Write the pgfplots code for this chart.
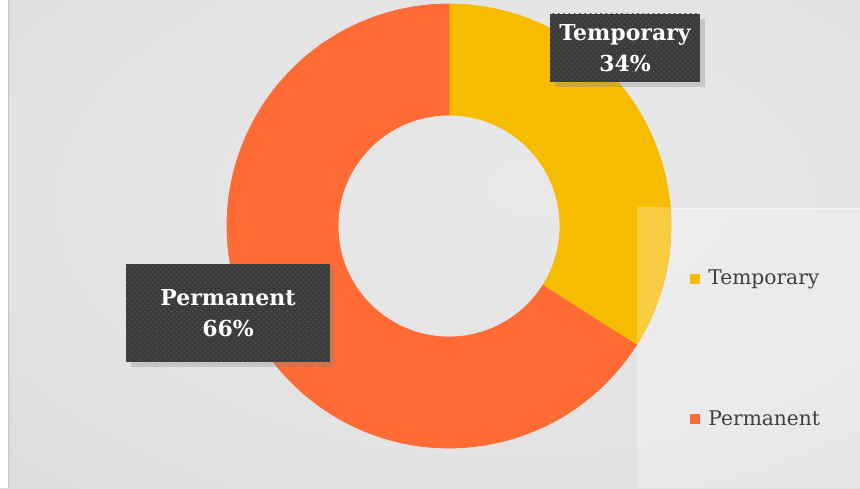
\documentclass[border=0pt]{standalone}
\usepackage{pgfplots}
\pgfplotsset{compat=1.18}
\usepackage{pgfplotstable}
\usepackage{fontspec}
\setmainfont{DejaVu Serif}
\usetikzlibrary{shadows,patterns}
\definecolor{tempc}{HTML}{F5BC00}
\definecolor{permc}{HTML}{FF6B35}
\definecolor{boxc}{HTML}{3B3B3B}
\definecolor{legtext}{HTML}{404040}
\definecolor{bg0}{HTML}{E8E8E8}
\definecolor{bg1}{HTML}{E3E3E3}
\definecolor{bg2}{HTML}{D6D6D6}
\definecolor{bg3}{HTML}{C8C8C8}
\pgfdeclareradialshading{bgshade}{\pgfpoint{6bp}{6bp}}{%
  color(0bp)=(bg0); color(25bp)=(bg1); color(55bp)=(bg2); color(80bp)=(bg3); color(100bp)=(bg3)}

% share of each type, in percent
\pgfplotstableread{
label value
Temporary 34
Permanent 66
}\shares
\pgfplotstablecreatecol[create col/expr accum={\pgfmathaccuma + \thisrow{value}}{0}]{cum}\shares
\pgfplotstablecreatecol[create col/expr={90-3.6*(\thisrow{cum}-\thisrow{value})}]{start}\shares
\pgfplotstablecreatecol[create col/expr={90-3.6*\thisrow{cum}}]{stop}\shares
\pgfplotstablecreatecol[create col/expr={\pgfplotstablerow}]{idx}\shares

\tikzset{lbl/.style={fill=boxc, text=white, align=center,
  font=\bfseries\fontsize{12.5}{17.5}\selectfont,
  postaction={pattern=crosshatch dots, pattern color=black!68},
  drop shadow={shadow xshift=3pt, shadow yshift=-3pt, opacity=0.3}}}

\begin{document}
\begin{tikzpicture}
\begin{axis}[
  set layers=standard,
  scale only axis, width=17.2cm, height=9.76cm,
  xmin=0, xmax=860, ymin=0, ymax=488,
  axis lines=none, xtick=\empty, ytick=\empty,
  axis background/.style={shade, shading=bgshade},
  colormap={donut}{color=(tempc) color=(permc)},
  point meta min=0, point meta max=1,
  legend style={draw=none, fill=none, at={(axis cs:684,139)}, anchor=west,
    font=\fontsize{11.5}{14}\selectfont, text=legtext, row sep=2.33cm,
    /tikz/every odd column/.append style={column sep=3pt}},
  legend cell align=left,
  legend image code/.code={\fill[#1, draw=none] (0cm,-0.1cm) rectangle (0.2cm,0.1cm);},
]
\addplot[scatter, only marks, forget plot, mark=*, mark size=0pt,
  point meta=\thisrow{idx},
  visualization depends on={\thisrow{start} \as \sa},
  visualization depends on={\thisrow{stop} \as \sb},
  scatter/@pre marker code/.code={%
    \pgfplotscolormapdefinemappedcolor{\pgfplotspointmetatransformed}%
    \fill[mapped color] (\sa:4.44cm) arc[start angle=\sa, end angle=\sb, radius=4.44cm]
      -- (\sb:2.22cm) arc[start angle=\sb, end angle=\sa, radius=2.22cm] -- cycle;
  },
  scatter/@post marker code/.code={},
] table[x expr=449, y expr=262] {\shares};

\addlegendimage{fill=tempc}
\addlegendentry{Temporary}
\addlegendimage{fill=permc}
\addlegendentry{Permanent}

% legend panel: under the legend, and lightening the ring where it overlaps
\fill[white, opacity=0.25] (axis cs:637,0) rectangle (axis cs:860,280);
\draw[white, opacity=0.5] (axis cs:637,280) -- (axis cs:860,280);
\begin{pgfonlayer}{axis foreground}
\begin{scope}
\clip (axis cs:637,0) rectangle (axis cs:860,280);
\fill[white, opacity=0.25] (axis cs:449,262) circle[radius=4.44cm];
\end{scope}
\fill[white] (axis cs:0,0) rectangle (axis cs:8,488);
\draw[black!22, line width=1pt] (axis cs:8.5,0) -- (axis cs:8.5,488);
\node[lbl, minimum width=3cm, minimum height=1.36cm] at (axis cs:625,440) {Temporary\\34\%};
\node[lbl, minimum width=4.08cm, minimum height=1.94cm] at (axis cs:228,175) {Permanent\\66\%};
\end{pgfonlayer}
\end{axis}
\end{tikzpicture}
\end{document}
